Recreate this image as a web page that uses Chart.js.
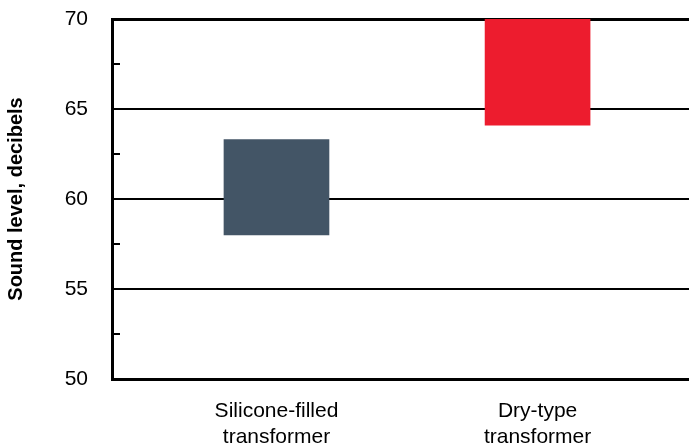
<!DOCTYPE html>
<html>
<head>
<meta charset="utf-8">
<script src="https://cdn.jsdelivr.net/npm/chart.js@4/dist/chart.umd.min.js"></script>
<style>
  html, body { margin: 0; padding: 0; background: #fff; }
  #wrap { width: 689px; height: 447px; }
</style>
</head>
<body>
<div id="wrap"><canvas id="canva1"></canvas></div>
<script>
// data
const categories = [["Silicone-filled", "transformer"], ["Dry-type", "transformer"]];
const positions = [0, 1];
const lowValues = [58, 64.1];
const highValues = [63.3, 70];
const barColors = ["#435566", "#ed1c2e"];
const yMin = 50, yMax = 70, yStep = 2.5, yLabelStep = 5;

// short inward ticks for the in-between values
const minorTicks = {
    id: "minorTicks",
    afterDraw(chart) {
        const y = chart.scales.y;
        const ctx = chart.ctx;
        const left = chart.chartArea.left;
        ctx.save();
        ctx.strokeStyle = "#000";
        ctx.lineWidth = 2;
        y.ticks.forEach(t => {
            if (t.value % yLabelStep === 0) return;
            const py = Math.round(y.getPixelForValue(t.value));
            ctx.beginPath();
            ctx.moveTo(left, py);
            ctx.lineTo(left + 8, py);
            ctx.stroke();
        });
        ctx.restore();
    }
};

window.onload = function(){
    let canva1 = document.getElementById("canva1");
    let grafico1 = new Chart(canva1, {
        type: "bar",
        data: {
            datasets: [{
                data: positions.map((p, i) => ({x: p, y: [lowValues[i], highValues[i]]})),
                backgroundColor: barColors,
                borderWidth: 0,
                barThickness: 105
            }]
        },
        options: {
            responsive: true,
            maintainAspectRatio: false,
            animation: false,
            layout: { padding: { top: 19, right: 0, left: 0, bottom: 0 } },
            plugins: {
                legend: { display: false },
                tooltip: { enabled: false }
            },
            scales: {
                x: {
                    type: "linear",
                    offset: false,
                    min: -0.63,
                    max: 1.58,
                    grid: { display: false, offset: false },
                    border: { display: true, color: "#000", width: 3 },
                    afterBuildTicks: (axis) => { axis.ticks = positions.map(v => ({value: v})); },
                    afterFit: (axis) => {
                        axis.height = 68;
                        axis.paddingLeft = 0; axis.paddingRight = 0;
                        axis.paddingTop = 0; axis.paddingBottom = 0;
                    },
                    ticks: {
                        autoSkip: false,
                        maxRotation: 0,
                        padding: 12,
                        color: "#000",
                        font: { family: "Liberation Sans", size: 21 },
                        callback: (v) => categories[positions.indexOf(v)]
                    }
                },
                y: {
                    min: yMin,
                    max: yMax,
                    grid: {
                        drawTicks: false,
                        color: "#000",
                        lineWidth: (c) => {
                            const v = c.tick.value;
                            if (v === yMax) return 3;
                            if (v % yLabelStep === 0 && v !== yMin) return 2;
                            return 0;
                        }
                    },
                    border: { display: true, color: "#000", width: 3 },
                    afterFit: (axis) => {
                        axis.width = 112;
                        axis.paddingTop = 0; axis.paddingBottom = 0;
                        axis.paddingLeft = 0; axis.paddingRight = 0;
                    },
                    ticks: {
                        stepSize: yStep,
                        padding: 24,
                        color: "#000",
                        font: { family: "Liberation Sans", size: 21 },
                        callback: (v) => v % yLabelStep === 0 ? v : ""
                    },
                    title: {
                        display: true,
                        text: "Sound level, decibels",
                        color: "#000",
                        font: { family: "Liberation Sans", size: 20, weight: "bold" },
                        padding: { top: 4, bottom: 4 }
                    }
                }
            }
        },
        plugins: [minorTicks]
    });
}
</script>
</body>
</html>
